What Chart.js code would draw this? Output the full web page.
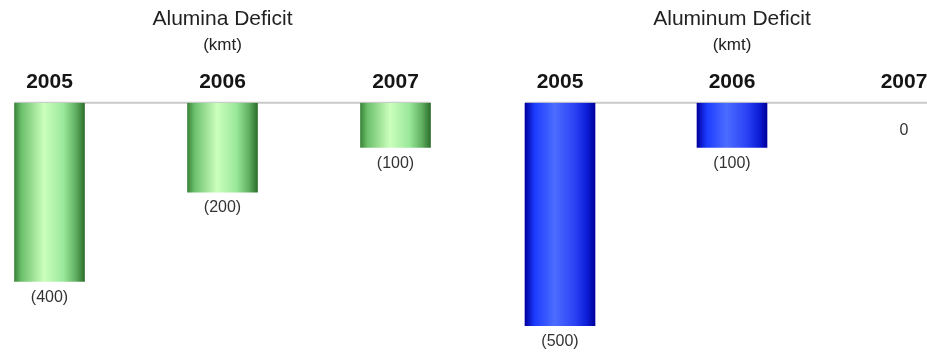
<!DOCTYPE html>
<html>
<head>
<meta charset="utf-8">
<script src="https://cdn.jsdelivr.net/npm/chart.js@4/dist/chart.umd.min.js"></script>
<style>
  html, body { margin: 0; padding: 0; background: #fff; }
  body { width: 927px; height: 356px; position: relative; overflow: hidden; }
  .panel { position: absolute; top: 0; }
  #aluminaPanel { left: -37px; }
  #aluminumPanel { left: 474px; }
</style>
</head>
<body>
<div class="panel" id="aluminaPanel"><canvas id="aluminaChart" width="519" height="356"></canvas></div>
<div class="panel" id="aluminumPanel"><canvas id="aluminumChart" width="516" height="356"></canvas></div>
<script>
var years = ['2005', '2006', '2007'];
var aluminaDeficit = [-400, -200, -100];
var aluminumDeficit = [-500, -100, 0];
var yMin = -500;
var yMax = 0;

var greenStops = [[0, '#3a853a'], [0.1, '#6cc06c'], [0.42, '#cbffbc'], [0.7, '#9ae89a'], [0.88, '#5fae5f'], [1, '#2c6f2c']];
var blueStops = [[0, '#0000a0'], [0.14, '#1c3cff'], [0.42, '#4c6cff'], [0.7, '#2c44f6'], [0.88, '#0d1fd8'], [1, '#00009c']];

var BAR_W = 70;

// horizontal cylinder-style fill for each bar
function cylinderFill(stops) {
    return function(ctx) {
        var chart = ctx.chart;
        var xs = chart.scales.x;
        if (ctx.raw === 0) return 'rgba(0,0,0,0)';
        if (!xs || ctx.dataIndex === undefined || !chart.chartArea) return stops[2][1];
        var cx = xs.getPixelForValue(ctx.dataIndex);
        var g = chart.ctx.createLinearGradient(cx - BAR_W / 2, 0, cx + BAR_W / 2, 0);
        stops.forEach(function(s) { g.addColorStop(s[0], s[1]); });
        return g;
    };
}

// grey baseline running from the first bar to the last one
var zeroLine = {
    id: 'zeroLine',
    beforeDatasetsDraw: function(chart) {
        var bars = chart.getDatasetMeta(0).data;
        if (!bars.length) return;
        var y = chart.scales.y.getPixelForValue(0);
        var c = chart.ctx;
        c.save();
        c.strokeStyle = '#c9c9c9';
        c.lineWidth = 2;
        c.beginPath();
        c.moveTo(bars[0].x - BAR_W / 2, y);
        c.lineTo(bars[bars.length - 1].x + BAR_W / 2, y);
        c.stroke();
        c.restore();
    }
};

// value under each bar, negatives in brackets
var valueLabels = {
    id: 'valueLabels',
    afterDatasetsDraw: function(chart) {
        var meta = chart.getDatasetMeta(0);
        var values = chart.data.datasets[0].data;
        var zeroY = chart.scales.y.getPixelForValue(0);
        var c = chart.ctx;
        c.save();
        c.font = '16px "Liberation Sans", Arial, sans-serif';
        c.fillStyle = '#333';
        c.textAlign = 'center';
        c.textBaseline = 'middle';
        meta.data.forEach(function(bar, i) {
            var v = values[i];
            var txt = v < 0 ? '(' + Math.abs(v) + ')' : String(v);
            var y = Math.max(bar.y + 16, zeroY + 28);
            c.fillText(txt, bar.x, y);
        });
        c.restore();
    }
};

function makeChart(id, title, values, stops) {
    return new Chart(document.getElementById(id).getContext('2d'), {
        type: 'bar',
        data: {
            labels: years,
            datasets: [{
                data: values,
                backgroundColor: cylinderFill(stops),
                borderWidth: 0,
                barThickness: BAR_W
            }]
        },
        options: {
            responsive: false,
            animation: false,
            layout: { padding: { top: 0, bottom: 30, left: 0, right: 0 } },
            plugins: {
                legend: { display: false },
                tooltip: { enabled: false },
                title: {
                    display: true,
                    text: title,
                    color: '#222',
                    font: { family: '"Liberation Sans", Arial, sans-serif', size: 21, weight: 'normal' },
                    padding: { top: 7, bottom: 0 }
                },
                subtitle: {
                    display: true,
                    text: '(kmt)',
                    color: '#222',
                    font: { family: '"Liberation Sans", Arial, sans-serif', size: 17 },
                    padding: { top: 3, bottom: 6 }
                }
            },
            scales: {
                x: {
                    position: 'top',
                    grid: { display: false, drawTicks: false },
                    border: { display: false },
                    ticks: {
                        color: '#151515',
                        padding: 8,
                        font: { family: '"Liberation Sans", Arial, sans-serif', size: 21, weight: 'bold' }
                    }
                },
                y: {
                    display: false,
                    min: yMin,
                    max: yMax
                }
            }
        },
        plugins: [zeroLine, valueLabels]
    });
}

makeChart('aluminaChart', 'Alumina Deficit', aluminaDeficit, greenStops);
makeChart('aluminumChart', 'Aluminum Deficit', aluminumDeficit, blueStops);
</script>
</body>
</html>
